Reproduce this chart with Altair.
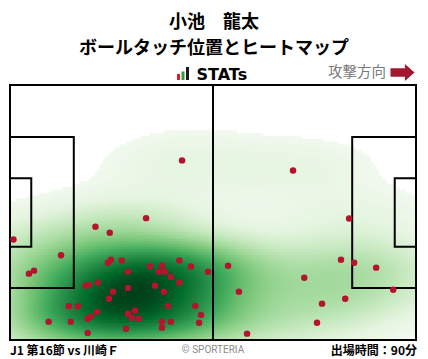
import numpy as np
import pandas as pd
import altair as alt

# ---- touch positions (pitch metres: x 0..105 left->right, y 0..68 top->bottom)
touch_x = [44.5, 35.2, 73.2, 87.7, 22.1, 25.8, 0.9, 13.2, 4.9, 6.2,
           25.3, 26.1, 28.9, 30.5, 36.2, 39.3, 38.5, 40.1, 41.6, 43.8,
           46.8, 51.2, 22.7, 19.6, 20.4, 26.6, 30.5, 37.5, 39.8, 43.8,
           25.6, 15.2, 17.6, 22.5, 32.3, 30.5, 31.5, 33.3, 20.1, 20.9,
           40.9, 47.9, 49.4, 10.0, 15.7, 39.3, 41.6, 48.9, 39.3, 30.0,
           20.1, 56.4, 59.2, 61.3, 76.1, 85.6, 89.0, 94.7, 99.1, 86.7,
           80.7, 79.4]
touch_y = [20.1, 35.5, 22.8, 35.6, 37.8, 39.4, 41.2, 45.4, 50.3, 49.5,
           47.4, 46.6, 46.8, 49.8, 48.4, 48.2, 49.8, 49.8, 51.2, 46.8,
           48.4, 49.8, 52.7, 53.5, 53.3, 55.1, 54.1, 53.5, 55.1, 52.7,
           57.0, 58.9, 58.9, 60.5, 60.2, 61.0, 62.1, 62.3, 62.3, 61.8,
           58.9, 58.9, 61.3, 63.1, 63.1, 63.1, 63.1, 63.4, 64.7, 65.0,
           66.1, 48.2, 55.1, 66.3, 51.4, 46.6, 47.4, 48.7, 54.6, 57.0,
           58.3, 63.4]

# ---- pitch geometry (metres)
box_x1 = [0, 0, 0, 88.5, 99.5]
box_x2 = [105, 16.5, 5.5, 105, 105]
box_y1 = [0, 13.84, 24.84, 13.84, 24.84]
box_y2 = [68, 54.16, 43.16, 54.16, 43.16]
halfway = [52.5]

title1 = "小池　龍太"
title2 = "ボールタッチ位置とヒートマップ"
footer_left = "J1 第16節 vs 川崎Ｆ"
footer_mid = "© SPORTERIA"
footer_right = "出場時間：90分"
attack_label = "攻撃方向"

heat_colors = ["#f2f9ef", "#e5f5e0", "#c7e9c0", "#a1d99b", "#74c476",
               "#41ab5d", "#238b45", "#006d2c", "#00401a"]

W, H = 406, 255
PL, PT = 2, 77

# ---- heat map: gaussian KDE of the touches
pts = np.column_stack([touch_x, touch_y])
n = len(pts)
factor = n ** (-1.0 / 6.0) * 1.15
cov = np.cov(pts.T) * factor ** 2
inv = np.linalg.inv(cov)


def kde(gx, gy):
    g = np.column_stack([gx.ravel(), gy.ravel()])
    d = g[:, None, :] - pts[None, :, :]
    q = np.einsum("gpi,ij,gpj->gp", d, inv, d)
    return np.exp(-0.5 * q).sum(axis=1)


ex, ey = np.meshgrid(np.linspace(-60, 165, 200), np.linspace(-50, 118, 150))
ed = np.sort(kde(ex, ey))
cm = np.cumsum(ed) / ed.sum()
level = ed[np.searchsorted(cm, 0.015)]

nx, ny = 140, 90
dx, dy = 105 / nx, 68 / ny
cx = (np.arange(nx) + 0.5) * dx
cy = (np.arange(ny) + 0.5) * dy
gx, gy = np.meshgrid(cx, cy)
dens = kde(gx, gy)
mask = dens >= level
rel = ((dens - level) / (dens.max() - level)).clip(0, 1) ** 0.7
heat = pd.DataFrame({
    "x": (gx.ravel() - dx / 2)[mask],
    "x2": np.minimum(gx.ravel() + dx * 0.9, 105)[mask],
    "y": (gy.ravel() - dy / 2)[mask],
    "y2": np.minimum(gy.ravel() + dy * 0.9, 68)[mask],
    "d": rel[mask],
})
stops = list(np.linspace(0, 1, len(heat_colors)))

xs = alt.Scale(domain=[0, 105], nice=False, zero=False)
ys = alt.Scale(domain=[0, 68], nice=False, zero=False, reverse=True)

heat_layer = alt.Chart(heat).mark_rect(strokeWidth=0).encode(
    x=alt.X("x:Q", scale=xs, axis=None),
    x2="x2:Q",
    y=alt.Y("y:Q", scale=ys, axis=None),
    y2="y2:Q",
    color=alt.Color("d:Q", scale=alt.Scale(domain=stops, range=heat_colors), legend=None),
)

boxes = pd.DataFrame({"x1": box_x1, "x2": box_x2, "y1": box_y1, "y2": box_y2})
box_layer = alt.Chart(boxes).mark_rect(filled=False, stroke="black", strokeWidth=2).encode(
    x=alt.X("x1:Q", scale=xs, axis=None), x2="x2:Q",
    y=alt.Y("y1:Q", scale=ys, axis=None), y2="y2:Q",
)
half_layer = alt.Chart(pd.DataFrame({"x": halfway})).mark_rule(color="black", strokeWidth=2).encode(
    x=alt.X("x:Q", scale=xs, axis=None), y=alt.value(0), y2=alt.value(H),
)

pts_df = pd.DataFrame({"x": touch_x, "y": touch_y})
pt_layer = alt.Chart(pts_df).mark_circle(size=42, color="#b5142e", opacity=1).encode(
    x=alt.X("x:Q", scale=xs, axis=None),
    y=alt.Y("y:Q", scale=ys, axis=None),
)


def label(text, x, y, size, align="center", color="black", weight="bold", font="Noto Sans CJK JP"):
    return alt.Chart(pd.DataFrame({"t": [text]})).mark_text(
        align=align, baseline="middle", fontSize=size, fontWeight=weight, color=color, font=font
    ).encode(text="t:N", x=alt.value(x), y=alt.value(y))


ox, oy = 10, 85  # screen position of plot origin
texts = [
    label(title1, 214 - ox, 23 - oy, 18),
    label(title2, 214 - ox, 48.5 - oy, 18),
    label("STATs", 196.5 - ox, 74.5 - oy, 16, align="left", font="DejaVu Sans"),
    label(attack_label, 386 - ox, 73 - oy, 14.5, align="right", color="#7a7a7a", weight="normal"),
    label(footer_left, 10 - ox, 350.5 - oy, 12, align="left"),
    label(footer_mid, 213 - ox, 349.5 - oy, 10, color="#8a8a8a", weight="normal", font="Roboto"),
    label(footer_right, 417 - ox, 350.5 - oy, 12, align="right"),
]

logo = pd.DataFrame({
    "x": [177 - ox, 181.5 - ox, 186 - ox],
    "x2": [180 - ox, 184.5 - ox, 189 - ox],
    "y": [74 - oy, 71.5 - oy, 67 - oy],
    "y2": [80 - oy, 80 - oy, 80 - oy],
    "c": ["#d81e2c", "#3a9a3f", "#1a1a1a"],
})
logo_layer = alt.Chart(logo).mark_rect().encode(
    x=alt.X("x:Q", scale=None), x2="x2:Q",
    y=alt.Y("y:Q", scale=None), y2="y2:Q",
    color=alt.Color("c:N", scale=None),
)

arrow_path = "M -1 -0.35 L 0.2 -0.35 L 0.2 -0.71 L 1 0 L 0.2 0.71 L 0.2 0.35 L -1 0.35 Z"
arrow_layer = alt.Chart(pd.DataFrame({"a": [1]})).mark_point(
    shape=arrow_path, size=576, filled=True, color="#a3182f", opacity=1, strokeWidth=0
).encode(x=alt.value(402.5 - ox), y=alt.value(72.5 - oy))

chart = alt.layer(
    heat_layer, box_layer, half_layer, pt_layer, logo_layer, arrow_layer, *texts
).properties(
    width=W, height=H,
    autosize=alt.AutoSizeParams(type="none"),
    padding={"left": PL, "top": PT, "right": 4, "bottom": 19},
    background="white",
).configure_view(stroke=None)

chart.save("out.html", embed_options={"renderer": "svg", "actions": False})
